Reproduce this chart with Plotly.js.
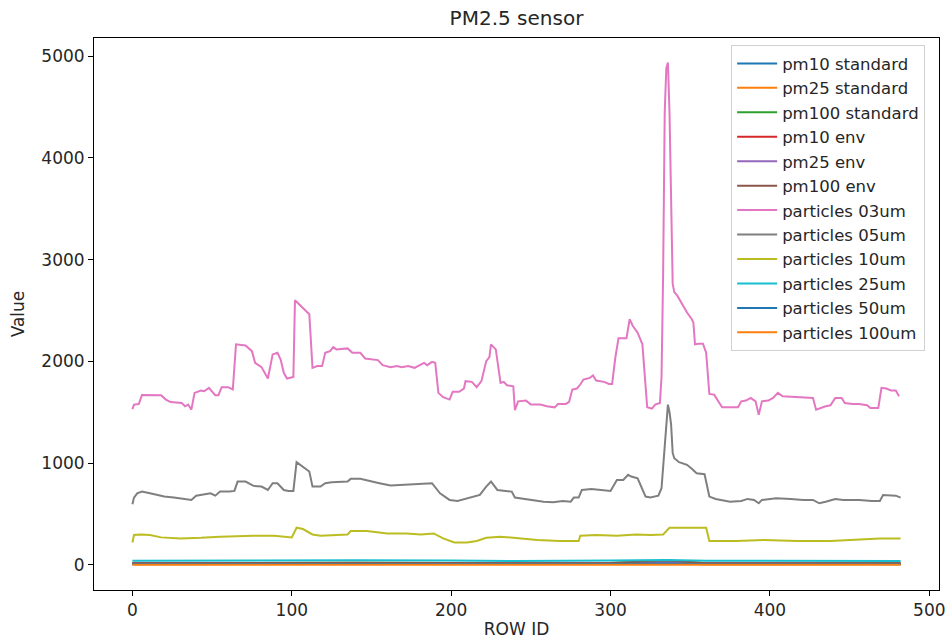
<!DOCTYPE html>
<html>
<head>
<meta charset="utf-8">
<script src="https://cdn.plot.ly/plotly-3.0.1.min.js"></script>
<style>
  html, body { margin: 0; padding: 0; background: #fff; }
  #chart { width: 951px; height: 639px; }
</style>
</head>
<body>
<div id="chart"></div>
<script>
// PM2.5 sensor readings by row

// particles 03um
const p03Rows = [0,1,4,6,18,21,24,31,33,35,37,39,43,45,48,52,54,56,60,63,65,71,75,77,81,83,85,88,91,93,95,97,101,102,107,111,113,116,119,121,124,126,128,135,138,143,146,154,157,162,166,169,173,177,183,185,188,190,192,195,199,201,205,208,209,213,216,219,222,224,225,228,231,233,235,239,240,242,247,250,256,260,265,267,272,274,276,279,281,283,287,289,291,296,299,301,303,305,310,312,314,317,320,322,323,326,328,331,332,333,334,335,336,337,338,339,340,342,345,348,351,352,353,355,358,360,362,365,370,380,382,385,388,391,393,395,399,402,405,408,419,427,429,432,435,438,441,445,447,452,456,461,463,468,470,473,476,479,481];
const p03Vals = [1530,1575,1580,1670,1667,1624,1600,1590,1558,1575,1525,1690,1713,1706,1739,1667,1667,1746,1746,1723,2167,2156,2100,1985,1943,1887,1831,2068,2084,2018,1887,1831,1847,2600,2528,2462,1936,1953,1953,2084,2100,2140,2117,2127,2084,2084,2028,2012,1962,1943,1953,1943,1953,1936,1985,1962,1995,1985,1690,1647,1624,1700,1700,1732,1805,1798,1746,1805,2002,2041,2167,2117,1788,1798,1765,1755,1520,1607,1614,1575,1575,1558,1548,1581,1581,1601,1723,1733,1772,1821,1837,1861,1811,1798,1778,1778,2035,2226,2226,2413,2347,2281,2167,1739,1548,1535,1575,1591,1850,2850,4450,4880,4935,4450,3500,2760,2680,2643,2561,2479,2413,2380,2167,2173,2173,2084,1680,1673,1548,1548,1607,1614,1640,1607,1476,1607,1614,1640,1690,1657,1647,1640,1525,1542,1558,1568,1640,1640,1591,1581,1581,1568,1542,1542,1739,1733,1713,1713,1657];

// particles 05um
const p05Rows = [0,1,3,6,11,16,20,26,32,37,40,45,49,52,55,61,64,66,71,76,81,85,88,91,95,98,101,103,107,111,113,118,121,125,135,137,143,148,155,162,170,181,188,193,199,204,210,214,218,222,225,229,233,238,240,243,250,258,264,270,275,277,280,282,288,295,300,304,308,311,313,317,320,322,325,330,332,334,336,337,338,339,340,343,348,351,354,359,362,366,375,382,386,390,393,395,404,413,421,427,431,435,441,446,456,464,469,471,475,479,482];
const p05Vals = [595,661,703,720,703,687,671,661,648,638,680,693,703,680,720,720,727,818,818,776,769,736,802,802,736,727,727,1009,966,917,769,769,802,812,818,845,845,825,802,779,786,792,802,703,638,628,654,671,687,769,818,736,727,720,661,654,638,621,615,628,621,661,661,736,746,736,727,835,835,885,868,851,753,671,661,680,753,1200,1575,1500,1380,1100,1048,1009,983,944,900,891,671,648,621,628,648,638,605,638,654,648,638,638,605,621,648,638,638,628,628,687,680,680,661];

// particles 10um
const p10Rows = [0,1,5,11,18,30,43,55,76,89,100,103,107,113,118,130,135,137,147,160,172,181,189,195,202,210,216,222,231,239,243,254,268,280,281,291,304,316,325,333,337,360,362,379,396,417,438,454,469,482];
const p10Vals = [220,293,299,293,270,260,266,276,286,286,270,365,352,299,286,293,299,332,332,309,309,299,309,260,220,220,234,266,276,266,260,244,234,234,286,293,286,299,293,299,365,365,234,234,244,234,234,244,260,260];

// low-valued series, sampled along the run
const lowRows   = [0,40,100,140,200,240,300,336,360,400,440,482];
const pm10Std   = [10,11,11,12,11,9,11,18,10,9,9,9];
const pm25Std   = [15,17,17,19,17,14,17,30,16,14,14,14];
const pm100Std  = [16,18,18,21,18,15,19,42,17,15,15,15];
const pm10Env   = [10,11,11,12,11,9,11,18,10,9,9,9];
const pm25Env   = [15,17,17,19,17,14,17,30,16,14,14,14];
const pm100Env  = [16,18,18,21,18,15,19,42,17,15,15,15];
const p25Vals   = [40,42,42,45,42,38,42,48,40,38,38,38];
const p50Vals   = [6,8,8,9,8,6,8,14,7,6,6,6];
const p100Vals  = [2,2,2,3,2,2,2,4,2,2,2,2];

const yTicks = [0,1000,2000,3000,4000,5000];
const xTicks = [0,100,200,300,400,500];

const seriesList = [
  {name: 'pm10 standard',   x: lowRows, y: pm10Std,  color: '#1f77b4'},
  {name: 'pm25 standard',   x: lowRows, y: pm25Std,  color: '#ff7f0e'},
  {name: 'pm100 standard',  x: lowRows, y: pm100Std, color: '#2ca02c'},
  {name: 'pm10 env',        x: lowRows, y: pm10Env,  color: '#d62728'},
  {name: 'pm25 env',        x: lowRows, y: pm25Env,  color: '#9467bd'},
  {name: 'pm100 env',       x: lowRows, y: pm100Env, color: '#8c564b'},
  {name: 'particles 03um',  x: p03Rows, y: p03Vals,  color: '#e377c2'},
  {name: 'particles 05um',  x: p05Rows, y: p05Vals,  color: '#7f7f7f'},
  {name: 'particles 10um',  x: p10Rows, y: p10Vals,  color: '#bcbd22'},
  {name: 'particles 25um',  x: lowRows, y: p25Vals,  color: '#17becf'},
  {name: 'particles 50um',  x: lowRows, y: p50Vals,  color: '#1f77b4'},
  {name: 'particles 100um', x: lowRows, y: p100Vals, color: '#ff7f0e'}
];

const traces = seriesList.map((s) => ({
  type: 'scatter',
  mode: 'lines',
  name: s.name,
  x: s.x,
  y: s.y,
  line: {color: s.color, width: 2}
}));

const font = {family: 'DejaVu Sans, sans-serif', size: 17, color: '#262626'};
const legendFont = {family: 'DejaVu Sans, sans-serif', size: 16.5, color: '#262626'};

const layout = {
  width: 951,
  height: 639,
  margin: {l: 94, r: 12, t: 38, b: 49, pad: 0},
  paper_bgcolor: '#ffffff',
  plot_bgcolor: '#ffffff',
  font: font,
  showlegend: true,
  title: {
    text: 'PM2.5 sensor',
    font: {family: 'DejaVu Sans, sans-serif', size: 20, color: '#262626'},
    x: 0.5, xref: 'paper', xanchor: 'center',
    y: 0.972, yref: 'container', yanchor: 'middle'
  },
  xaxis: {
    range: [-24.1, 506.1],
    tickvals: xTicks,
    ticktext: xTicks.map(String),
    ticks: 'outside', ticklen: 5, tickcolor: '#000', tickwidth: 1,
    showline: true, linecolor: '#000', linewidth: 1, mirror: true,
    showgrid: false, zeroline: false,
    tickfont: font,
    title: {text: 'ROW ID', font: font, standoff: 4},
    automargin: false
  },
  yaxis: {
    range: [-247, 5177],
    tickvals: yTicks,
    ticktext: yTicks.map(String),
    ticks: 'outside', ticklen: 5, tickcolor: '#000', tickwidth: 1,
    showline: true, linecolor: '#000', linewidth: 1, mirror: true,
    showgrid: false, zeroline: false,
    tickfont: font,
    title: {text: 'Value', font: font, standoff: 12},
    automargin: false
  },
  legend: {
    x: 0.754, xanchor: 'left',
    y: 0.987, yanchor: 'top',
    bgcolor: 'rgba(255,255,255,0.85)',
    bordercolor: '#d0d0d0', borderwidth: 1,
    font: legendFont,
    itemwidth: 40,
    traceorder: 'normal'
  }
};

Plotly.newPlot('chart', traces, layout, {displayModeBar: false, staticPlot: true});
</script>
</body>
</html>
